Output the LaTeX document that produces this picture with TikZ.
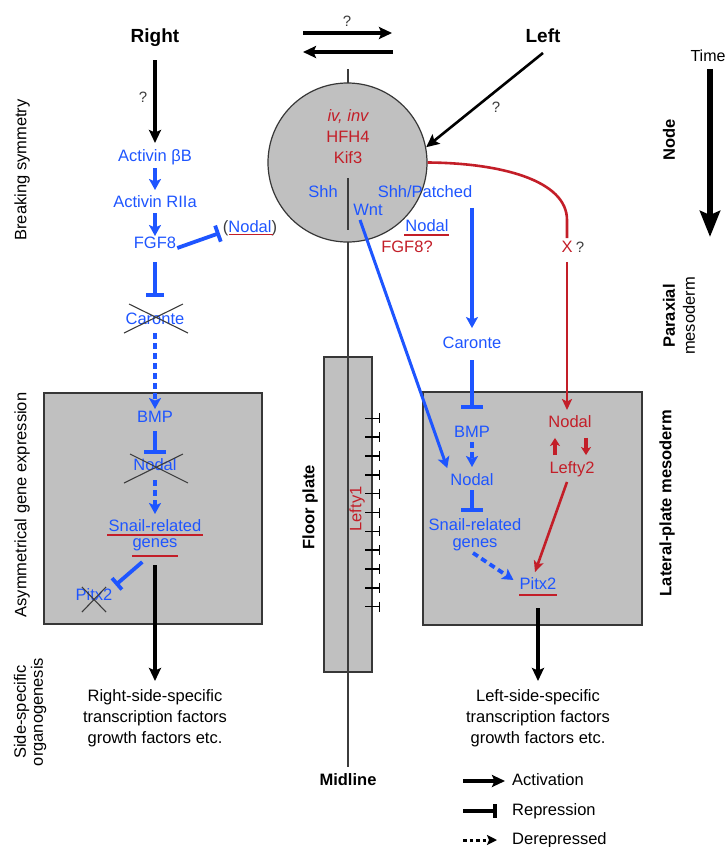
\documentclass[tikz,border=0pt]{standalone}
\usepackage{fontspec}
\setmainfont{Liberation Sans}
\usetikzlibrary{arrows.meta}
\definecolor{bl}{RGB}{30,85,255}
\definecolor{rd}{RGB}{195,30,40}
\definecolor{gfill}{RGB}{192,192,192}
\definecolor{edge}{RGB}{55,55,55}
\definecolor{qgray}{RGB}{60,60,60}
\begin{document}
\begin{tikzpicture}[x=1pt,y=-1pt,
  lab/.style={font=\fontsize{16.5}{19}\selectfont, inner sep=0pt, text height=12pt, text depth=3.5pt},
  btx/.style={lab, text=bl},
  rtx/.style={lab, text=rd},
  qm/.style={lab, text=qgray, font=\fontsize{15}{17}\selectfont},
  bld/.style={lab, font=\fontsize{19}{22}\selectfont\bfseries},
  para/.style={font=\fontsize{16.5}{21}\selectfont, inner sep=0pt, align=center},
  side/.style={font=\fontsize{16.5}{17}\selectfont, inner sep=0pt, rotate=90, align=center},
  sidebf/.style={side, font=\fontsize{16.5}{17}\selectfont\bfseries},
  boxst/.style={draw=edge, line width=1.5pt, fill=gfill},
  kact/.style={line width=3.2pt, draw=black, -{Stealth[length=13pt,width=12pt,inset=2.5pt]}},
  bact/.style={line width=3.8pt, draw=bl, -{Stealth[length=11pt,width=12pt,inset=2.5pt]}},
  bdash/.style={bact, dash pattern=on 6pt off 4pt},
  brep/.style={line width=3.8pt, draw=bl, -{Bar[width=22pt]}},
  rline/.style={line width=2.6pt, draw=rd},
  ract/.style={rline, -{Stealth[length=11pt,width=10pt,inset=2.5pt]}},
  ractb/.style={line width=3.4pt, draw=rd, -{Stealth[length=8pt,width=10pt,inset=2pt]}},
  xcr/.style={draw=qgray, line width=1.1pt},
  rul/.style={draw=rd, line width=1.5pt},
  mid/.style={draw=qgray, line width=1.2pt},
  tick/.style={draw=black, line width=1.5pt, -{Bar[width=10pt]}}
]
\useasboundingbox (0,0) rectangle (728,847);

% boxes
\draw[boxst] (44,393) rectangle (262,624);
\draw[boxst] (423,392) rectangle (642,625);
\draw[boxst] (324,357) rectangle (372,672);

% midline
\coordinate (mtop) at (348,69);
\coordinate (mbot) at (348,767);
\draw[mid] (mtop) -- (mbot);

% central circle (node)
\node[circle, draw=edge, line width=1.2pt, fill=gfill, minimum size=159pt, inner sep=0pt] (circ) at (347.5,162.5) {};
\draw[mid] (348,178) -- (348,230);
\node[rtx, font=\fontsize{16.5}{19}\selectfont\itshape] (iv) at (348,117) {iv, inv};
\node[rtx] (hfh) at (348,138) {HFH4};
\node[rtx] (kif) at (348,159) {Kif3};
\node[btx] (shh) at (323,193) {Shh};
\node[btx] (shhp) at (425,193) {Shh/Patched};
\node[btx] (wnt) at (368,211) {Wnt};
\node[btx] (nodC) at (427,227) {Nodal};
\node[rtx] (fgfC) at (407,248) {FGF8?};
\draw[rul] (404,235) -- (449,235);

% top
\node[bld] (right) at (155,38) {Right};
\node[bld] (left) at (543,38) {Left};
\node[qm] (q0) at (347,22) {?};
\coordinate (ta1) at (303,33);
\coordinate (ta2) at (392,33);
\coordinate (tb1) at (393,52);
\coordinate (tb2) at (303,52);
\draw[kact] (ta1) -- (ta2);
\draw[kact] (tb1) -- (tb2);
\node[qm] (q1) at (143,98) {?};
\node[qm] (q2) at (496,108) {?};
\draw[kact, line width=2.6pt] ([yshift=-7pt]left.south) -- (circ.11);

% left chain
\node[btx] (abB) at (155,157) {Activin βB};
\node[btx] (arII) at (155,203) {Activin RIIa};
\node[btx] (fgfL) at (155,244) {FGF8};
\node[btx] (nodP) at (250,228) {\textcolor{qgray}{(}Nodal\textcolor{qgray}{)}};
\draw[rul] (229,234.5) -- (273,234.5);
\node[btx] (carL) at (155,320) {Caronte};
\node[btx] (bmpL) at (155,418) {BMP};
\node[btx] (nodL) at (155,466) {Nodal};
\node[btx] (snL) at (155,527) {Snail-related};
\node[btx] (geL) at (155,543) {genes};
\node[btx] (pxL) at (94,596) {Pitx2};
\draw[rul] (107,535) -- (203,535);
\draw[rul] (132,556) -- (178,556);
\draw[xcr] (129,304) -- (188,333) (124,333) -- (183,304);
\draw[xcr] (130,454) -- (188,483) (124,483) -- (183,454);
\draw[xcr] (82,587) -- (106,612) (82,612) -- (106,587);
\node[para, anchor=north] (rtxt) at (155,689) {Right-side-specific\\transcription factors\\growth factors etc.};

\draw[kact, shorten <=22pt, shorten >=14pt] (right.center) -- (abB.center);
\draw[bact, shorten <=11pt, shorten >=13pt] (abB.center) -- (arII.center);
\draw[bact, shorten <=10pt, shorten >=8pt] (arII.center) -- (fgfL.center);
\draw[brep, -{Bar[width=17pt]}] ([xshift=1pt,yshift=-4pt]fgfL.east) -- ([xshift=-3pt,yshift=-5pt]nodP.west);
\draw[brep, -{Bar[width=18pt]}, shorten <=18pt, shorten >=23pt] (fgfL.center) -- (carL.center);
\draw[bdash, shorten <=13pt, shorten >=9pt] (carL.center) -- (bmpL.center);
\draw[brep, shorten <=13pt, shorten >=12pt] (bmpL.center) -- (nodL.center);
\draw[bdash, shorten <=14pt, shorten >=13pt] (nodL.center) -- (snL.center);
\draw[brep, -{Bar[width=15pt]}] ([xshift=10pt,yshift=-11pt]geL.south west) -- ([xshift=3pt,yshift=3pt]pxL.north east);
\draw[kact, shorten <=22pt, shorten >=8pt] (geL.center) -- (rtxt.north);

% right chain
\node[btx] (carR) at (472,344) {Caronte};
\node[btx] (bmpR) at (472,433) {BMP};
\node[btx] (nodR) at (472,481) {Nodal};
\node[btx] (snR) at (475,526) {Snail-related};
\node[btx] (geR) at (475,543) {genes};
\node[btx] (pxR) at (538,585) {Pitx2};
\draw[rul] (519,595) -- (557,595);
\node[rtx] (rnod) at (570,423) {Nodal};
\node[rtx] (rlef) at (572,469) {Lefty2};
\node[rtx] (xq) at (567,248) {X};
\node[qm] (xqq) at (580,248) {?};
\node[para, anchor=north] (ltxt) at (538,689) {Left-side-specific\\transcription factors\\growth factors etc.};

\draw[bact, shorten <=7pt, shorten >=8pt] (carR.north |- shhp.south) -- (carR.north);
\draw[bact, line width=3pt] ([xshift=-8pt,yshift=-1pt]wnt.south) -- ([xshift=-3pt,yshift=5pt]nodR.north west);
\draw[brep, shorten <=16pt, shorten >=24pt] (carR.center) -- (bmpR.center);
\draw[bdash, shorten <=9pt, shorten >=14pt] (bmpR.center) -- (nodR.center);
\draw[brep, shorten <=9pt, shorten >=14pt] (nodR.center) -- (nodR.center |- snR.center);
\draw[bdash] ([xshift=-2pt,yshift=-2pt]geR.south) -- ([xshift=-6pt,yshift=5pt]pxR.west);
\draw[kact, shorten <=23pt, shorten >=8pt] (pxR.center) -- (pxR.center |- ltxt.north);

\draw[rline] (circ.east) .. controls (500,163) and (567,180) .. (567,220) -- ([yshift=2pt]xq.north);
\draw[ract, shorten >=5pt] ([yshift=-6pt]xq.south) -- (xq.south |- rnod.north);
\draw[ractb, shorten <=6pt, shorten >=7pt] ([xshift=-17pt]rlef.north) -- ([xshift=-17pt]rlef.north |- rnod.south);
\draw[ractb, shorten <=7pt, shorten >=6pt] ([xshift=14pt]rlef.north |- rnod.south) -- ([xshift=14pt]rlef.north);
\draw[ract] ([xshift=-5pt,yshift=-5pt]rlef.south) -- ([xshift=-3pt,yshift=5pt]pxR.north);

% floor plate
\node[sidebf] (fp) at (310,507) {Floor plate};
\node[rtx, rotate=90] (lef1) at (357,509) {Lefty1};
\foreach \i in {0,...,10} {
  \pgfmathsetmacro{\yy}{418.3+18.84*\i}
  \draw[tick] (365,\yy) -- (380,\yy);
}
\node[bld, font=\fontsize{16.5}{19}\selectfont\bfseries] (midl) at (348,781) {Midline};

% side labels
\node[side] (bsym) at (22,170) {Breaking symmetry};
\node[side] (asym) at (22,505) {Asymmetrical gene expression};
\node[side] (sso) at (30,712) {Side-specific\\organogenesis};
\node[sidebf] (nodeLab) at (669,140) {Node};
\node[side, font=\fontsize{16.5}{20}\selectfont] (parax) at (679,316) {\textbf{Paraxial}\\mesoderm};
\node[sidebf] (lpm) at (667,503) {Lateral-plate mesoderm};

% time
\node[lab, font=\fontsize{16}{18}\selectfont] (time) at (708,57) {Time};
\draw[line width=6pt, -{Stealth[length=26pt,width=20pt,inset=4pt]}] ([yshift=-4pt]time.south -| 710,0) -- (710,237);

% legend
\node[lab, anchor=west] (lgA) at (512,781) {Activation};
\node[lab, anchor=west] (lgR) at (512,811) {Repression};
\node[lab, anchor=west] (lgD) at (512,840) {Derepressed};
\draw[kact, shorten >=7pt] (463,781) -- (lgA.west);
\draw[line width=3.6pt, -{Bar[width=14pt]}, shorten >=15pt] (463,811) -- (lgR.west);
\draw[line width=3pt, dash pattern=on 3.5pt off 3pt, -{Stealth[length=10pt,width=10pt,inset=2pt]}, shorten >=15pt] (463,840) -- (lgD.west);
\end{tikzpicture}
\end{document}
